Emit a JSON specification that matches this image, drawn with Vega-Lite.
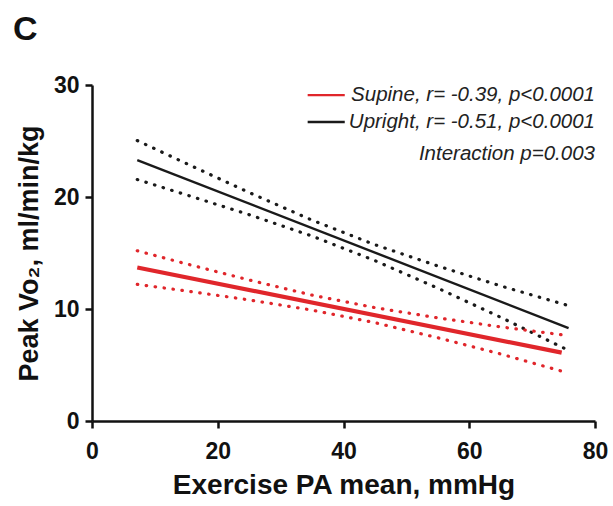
{
  "$schema": "https://vega.github.io/schema/vega-lite/v6.json",
  "width": 503,
  "height": 336,
  "autosize": "none",
  "padding": {"left": 92, "top": 85, "right": 18, "bottom": 85},
  "background": "white",
  "title": {"text": "C", "anchor": "start", "frame": "group", "font": "Liberation Sans", "fontSize": 34, "fontWeight": "bold", "color": "#111", "dx": -79, "offset": 0, "baseline": "alphabetic"},
  "config": {
    "view": {"stroke": null},
    "axis": {
      "grid": false,
      "labelFlush": false,
      "labelOverlap": false,
      "domainColor": "#111", "domainWidth": 2.5,
      "tickColor": "#111", "tickWidth": 2.5, "tickSize": 7,
      "labelFont": "Liberation Sans", "labelFontSize": 23, "labelFontWeight": "bold", "labelColor": "#111",
      "titleFont": "Liberation Sans", "titleFontSize": 28, "titleFontWeight": "bold", "titleColor": "#111"
    }
  },
  "datasets": {
    "lines": [
      {"group": "Upright", "line": "Upright fit", "kind": "fit", "x": 7.2, "y": 23.3},
      {"group": "Upright", "line": "Upright fit", "kind": "fit", "x": 75.8, "y": 8.3},
      {"group": "Upright", "line": "Upright upper", "kind": "ci", "x": 7.2, "y": 25.04},
      {"group": "Upright", "line": "Upright upper", "kind": "ci", "x": 15, "y": 22.99},
      {"group": "Upright", "line": "Upright upper", "kind": "ci", "x": 25, "y": 20.4},
      {"group": "Upright", "line": "Upright upper", "kind": "ci", "x": 35, "y": 17.93},
      {"group": "Upright", "line": "Upright upper", "kind": "ci", "x": 45, "y": 15.74},
      {"group": "Upright", "line": "Upright upper", "kind": "ci", "x": 55, "y": 13.84},
      {"group": "Upright", "line": "Upright upper", "kind": "ci", "x": 65, "y": 12.06},
      {"group": "Upright", "line": "Upright upper", "kind": "ci", "x": 75.8, "y": 10.3},
      {"group": "Upright", "line": "Upright lower", "kind": "ci", "x": 7.2, "y": 21.56},
      {"group": "Upright", "line": "Upright lower", "kind": "ci", "x": 15, "y": 20.19},
      {"group": "Upright", "line": "Upright lower", "kind": "ci", "x": 25, "y": 18.42},
      {"group": "Upright", "line": "Upright lower", "kind": "ci", "x": 35, "y": 16.51},
      {"group": "Upright", "line": "Upright lower", "kind": "ci", "x": 45, "y": 14.32},
      {"group": "Upright", "line": "Upright lower", "kind": "ci", "x": 55, "y": 11.86},
      {"group": "Upright", "line": "Upright lower", "kind": "ci", "x": 65, "y": 9.26},
      {"group": "Upright", "line": "Upright lower", "kind": "ci", "x": 75.8, "y": 6.3},
      {"group": "Supine", "line": "Supine fit", "kind": "fit", "x": 7.2, "y": 13.7},
      {"group": "Supine", "line": "Supine fit", "kind": "fit", "x": 74.7, "y": 6.1},
      {"group": "Supine", "line": "Supine upper", "kind": "ci", "x": 7.2, "y": 15.2},
      {"group": "Supine", "line": "Supine upper", "kind": "ci", "x": 15, "y": 14.03},
      {"group": "Supine", "line": "Supine upper", "kind": "ci", "x": 25, "y": 12.59},
      {"group": "Supine", "line": "Supine upper", "kind": "ci", "x": 35, "y": 11.24},
      {"group": "Supine", "line": "Supine upper", "kind": "ci", "x": 45, "y": 10.12},
      {"group": "Supine", "line": "Supine upper", "kind": "ci", "x": 55, "y": 9.21},
      {"group": "Supine", "line": "Supine upper", "kind": "ci", "x": 65, "y": 8.4},
      {"group": "Supine", "line": "Supine upper", "kind": "ci", "x": 74.7, "y": 7.7},
      {"group": "Supine", "line": "Supine lower", "kind": "ci", "x": 7.2, "y": 12.2},
      {"group": "Supine", "line": "Supine lower", "kind": "ci", "x": 15, "y": 11.61},
      {"group": "Supine", "line": "Supine lower", "kind": "ci", "x": 25, "y": 10.81},
      {"group": "Supine", "line": "Supine lower", "kind": "ci", "x": 35, "y": 9.9},
      {"group": "Supine", "line": "Supine lower", "kind": "ci", "x": 45, "y": 8.78},
      {"group": "Supine", "line": "Supine lower", "kind": "ci", "x": 55, "y": 7.43},
      {"group": "Supine", "line": "Supine lower", "kind": "ci", "x": 65, "y": 5.98},
      {"group": "Supine", "line": "Supine lower", "kind": "ci", "x": 74.7, "y": 4.45}
    ],
    "swatches": [
      {"group": "Supine", "x": 34.3, "x2": 40.2, "y": 29.1},
      {"group": "Upright", "x": 34.3, "x2": 40.2, "y": 26.7}
    ],
    "labels": [
      {"label": "Supine, r= -0.39, p<0.0001", "x": 80, "y": 29.1},
      {"label": "Upright, r= -0.51, p<0.0001", "x": 80, "y": 26.7},
      {"label": "Interaction p=0.003", "x": 80, "y": 23.8}
    ]
  },
  "encoding": {
    "x": {"field": "x", "type": "quantitative", "scale": {"domain": [0, 80], "nice": false, "zero": false},
          "axis": {"values": [0, 20, 40, 60, 80], "title": "Exercise PA mean, mmHg", "labelPadding": 12, "titlePadding": 8}},
    "y": {"field": "y", "type": "quantitative", "scale": {"domain": [0, 30], "nice": false, "zero": false},
          "axis": {"values": [0, 10, 20, 30], "title": "Peak Vo₂, ml/min/kg", "labelPadding": 6, "titlePadding": 10, "titleFontSize": 27}}
  },
  "layer": [
    {
      "data": {"name": "lines"},
      "transform": [{"filter": "datum.kind === 'ci'"}],
      "mark": {"type": "line", "strokeDash": [0.5, 8.5], "strokeCap": "round", "strokeWidth": 3.2},
      "encoding": {
        "color": {"field": "group", "type": "nominal", "scale": {"domain": ["Supine", "Upright"], "range": ["#e0262b", "#1a1a1a"]}, "legend": null},
        "detail": {"field": "line"}
      }
    },
    {
      "data": {"name": "lines"},
      "transform": [{"filter": "datum.kind === 'fit'"}],
      "mark": {"type": "line"},
      "encoding": {
        "color": {"field": "group", "type": "nominal", "scale": {"domain": ["Supine", "Upright"], "range": ["#e0262b", "#1a1a1a"]}, "legend": null},
        "strokeWidth": {"field": "group", "type": "nominal", "scale": {"domain": ["Supine", "Upright"], "range": [4.2, 2.4]}, "legend": null},
        "detail": {"field": "line"}
      }
    },
    {
      "data": {"name": "swatches"},
      "mark": {"type": "rule", "strokeWidth": 2.4},
      "encoding": {
        "x2": {"field": "x2"},
        "color": {"field": "group", "type": "nominal", "scale": {"domain": ["Supine", "Upright"], "range": ["#e0262b", "#1a1a1a"]}, "legend": null}
      }
    },
    {
      "data": {"name": "labels"},
      "mark": {"type": "text", "align": "right", "baseline": "middle", "font": "Liberation Sans", "fontSize": 20.5, "fontStyle": "italic", "color": "#222"},
      "encoding": {"text": {"field": "label"}}
    }
  ]
}
